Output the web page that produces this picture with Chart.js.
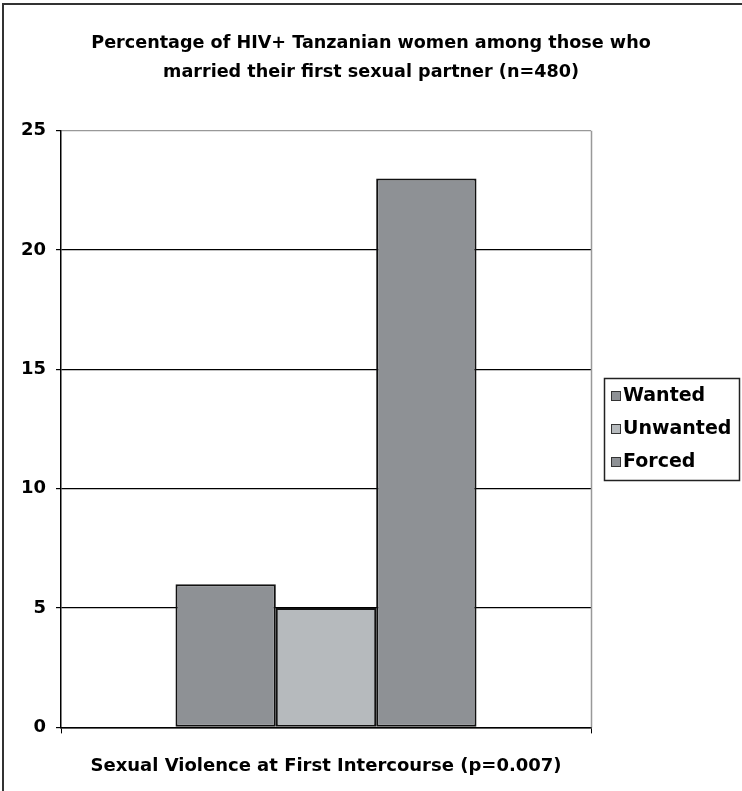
<!DOCTYPE html>
<html>
<head>
<meta charset="utf-8">
<script src="https://cdn.jsdelivr.net/npm/chart.js@4/dist/chart.umd.min.js"></script>
<style>
  html, body { margin: 0; padding: 0; background: #fff; }
  #wrap { width: 742px; height: 791px; }
</style>
</head>
<body>
<div id="wrap"><canvas id="c" width="742" height="791"></canvas></div>
<script>
// Chart data
const categories = [''];
const seriesNames = ['Wanted', 'Unwanted', 'Forced'];
const seriesValues = [[6], [5], [23]];
const seriesColors = ['#8e9195', '#b6babd', '#8e9195'];
const yTicks = [0, 5, 10, 15, 20, 25];

const titleLines = [
  'Percentage of HIV+ Tanzanian women among those who',
  'married their first sexual partner (n=480)'
];
const xTitle = 'Sexual Violence at First Intercourse (p=0.007)';

const FONT = '"DejaVu Sans", Verdana, sans-serif';

// Frame around the whole figure, right border of the plot, and the boxed legend
const decorations = {
  id: 'decorations',
  afterDraw(chart) {
    const ctx = chart.ctx;
    const a = chart.chartArea;
    ctx.save();
    // outer frame
    ctx.strokeStyle = '#333';
    ctx.lineWidth = 2;
    ctx.strokeRect(3, 4, 800, 800);
    // plot right edge
    ctx.strokeStyle = '#999';
    ctx.lineWidth = 1.5;
    ctx.beginPath();
    ctx.moveTo(Math.round(a.right) + 0.5, a.top);
    ctx.lineTo(Math.round(a.right) + 0.5, a.bottom);
    ctx.stroke();

    // legend
    const lx = 604, lw = 135, rowH = 33;
    const n = chart.data.datasets.length;
    const lh = rowH * n + 3;
    const cy = (a.top + a.bottom) / 2;
    const ly = Math.round(cy - lh / 2);
    ctx.strokeStyle = '#222';
    ctx.lineWidth = 1.5;
    ctx.strokeRect(lx + 0.5, ly + 0.5, lw, lh);
    ctx.font = 'bold 19px ' + FONT;
    ctx.textBaseline = 'middle';
    ctx.textAlign = 'left';
    chart.data.datasets.forEach((ds, i) => {
      const y = ly + 18 + i * rowH;
      ctx.fillStyle = ds.backgroundColor;
      ctx.fillRect(lx + 7, y - 5, 10, 10);
      ctx.strokeStyle = '#333';
      ctx.lineWidth = 1;
      ctx.strokeRect(lx + 7.5, y - 4.5, 9, 9);
      ctx.fillStyle = '#000';
      ctx.fillText(ds.label, lx + 19, y);
    });
    ctx.restore();
  }
};

new Chart(document.getElementById('c'), {
  type: 'bar',
  data: {
    labels: categories,
    datasets: seriesNames.map((name, i) => ({
      label: name,
      data: seriesValues[i],
      backgroundColor: seriesColors[i],
      borderColor: '#111',
      borderWidth: 2,
      borderSkipped: false,
      categoryPercentage: 0.568,
      barPercentage: 1.0
    }))
  },
  options: {
    responsive: false,
    animation: false,
    layout: { padding: { left: 0, right: 0, top: 0, bottom: 14 } },
    plugins: {
      legend: { display: false },
      tooltip: { enabled: false },
      title: {
        display: true,
        text: titleLines,
        color: '#000',
        font: { family: FONT, size: 17.6, weight: 'bold', lineHeight: 1.64 },
        padding: { top: 29, bottom: 44 }
      }
    },
    scales: {
      x: {
        offset: true,
        grid: {
          offset: true,
          drawOnChartArea: false,
          drawTicks: true,
          tickLength: 6,
          color: '#000'
        },
        border: { display: true, color: '#000', width: 1.5 },
        ticks: { display: false },
        title: {
          display: true,
          text: xTitle,
          color: '#000',
          font: { family: FONT, size: 18, weight: 'bold', lineHeight: 1.2 },
          padding: { top: 22, bottom: 0 }
        }
      },
      y: {
        min: 0,
        max: 25,
        afterBuildTicks(scale) { scale.ticks = yTicks.map(v => ({ value: v })); },
        afterFit(scale) { scale.width = 61; },
        grid: {
          color: ctx => (ctx.tick && ctx.tick.value === 25) ? '#999' : '#000',
          lineWidth: 1.2,
          tickColor: '#000',
          tickLength: 5
        },
        border: { display: true, color: '#000', width: 1.5 },
        ticks: {
          color: '#000',
          padding: 10,
          font: { family: FONT, size: 18, weight: 'bold' }
        }
      },
      // empty right-hand scale that reserves room for the legend
      side: {
        type: 'linear',
        position: 'right',
        display: true,
        min: 0,
        max: 25,
        afterFit(scale) { scale.width = 151; },
        grid: { display: false },
        border: { display: false },
        ticks: { display: false }
      }
    }
  },
  plugins: [decorations]
});
</script>
</body>
</html>
